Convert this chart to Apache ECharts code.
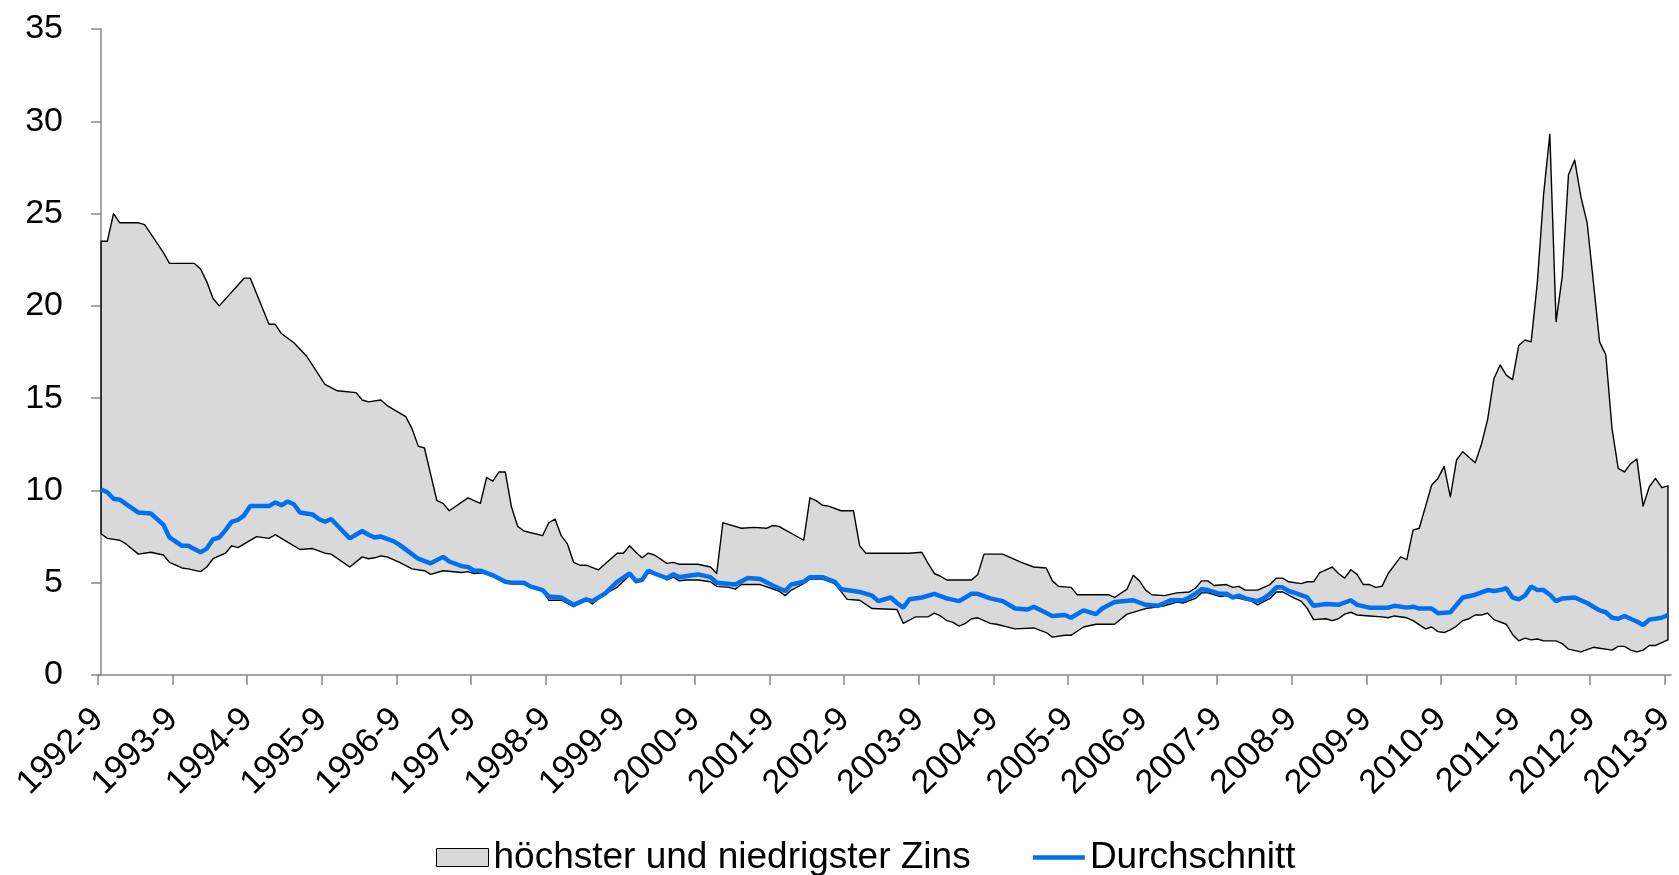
<!DOCTYPE html>
<html lang="de">
<head>
    <meta charset="UTF-8">
    <title>Zinsen</title>
    <script src="https://cdn.jsdelivr.net/npm/echarts@6.0.0/dist/echarts.min.js"></script>
    <style>
        html, body {margin: 0; padding: 0; background: #fff;}
        #chart {width: 1679px; height: 875px;}
    </style>
</head>
<body>
<div id="chart"></div>
<script>
    // Monat 0 = 1992-9, Monat 252 = 2013-9
    let tickLabels = ['1992-9', '1993-9', '1994-9', '1995-9', '1996-9', '1997-9', '1998-9', '1999-9',
        '2000-9', '2001-9', '2002-9', '2003-9', '2004-9', '2005-9', '2006-9', '2007-9', '2008-9',
        '2009-9', '2010-9', '2011-9', '2012-9', '2013-9'];

    // höchster Zins [Monat, Wert]
    let highRate = [
        [0, 23.5], [1, 23.5], [2, 25.0], [3, 24.5], [6, 24.5], [7, 24.4], [10, 22.9], [11, 22.3],
        [15, 22.3], [16, 22.0], [17, 21.3], [18, 20.4], [19, 20.0], [23, 21.5], [24, 21.5], [27, 19.0],
        [28, 19.0], [29, 18.5], [31, 18.0], [33, 17.3], [36, 15.75], [38, 15.4], [41, 15.3], [42, 14.9],
        [43, 14.8], [45, 14.9], [46, 14.6], [49, 14.0], [50, 13.35], [51, 12.4], [52, 12.3], [54, 9.45],
        [55, 9.3], [56, 8.9], [59, 9.6], [61, 9.3], [62, 10.7], [63, 10.5], [64, 11.0], [65, 11.0],
        [66, 9.1], [67, 8.05], [68, 7.8], [71, 7.55], [72, 8.25], [73, 8.45], [74, 7.55], [75, 7.1],
        [76, 6.1], [77, 5.95], [78, 5.95], [80, 5.7], [83, 6.6], [84, 6.6], [85, 7.0], [86, 6.65],
        [87, 6.35], [88, 6.6], [89, 6.5], [91, 6.05], [92, 6.1], [93, 6.0], [96, 6.0], [98, 5.85],
        [99, 5.5], [100, 8.25], [101, 8.15], [103, 7.95], [105, 8.0], [107, 7.95], [108, 8.1], [109, 8.05],
        [113, 7.3], [114, 9.6], [115, 9.45], [116, 9.2], [117, 9.15], [119, 8.9], [121, 8.9], [122, 7.0],
        [123, 6.6], [130, 6.6], [132, 6.65], [133, 6.05], [134, 5.5], [135, 5.35], [136, 5.15], [140, 5.15],
        [141, 5.45], [142, 6.55], [145, 6.55], [147, 6.25], [148, 6.1], [150, 5.85], [152, 5.8], [153, 5.1],
        [154, 4.8], [156, 4.75], [157, 4.35], [162, 4.35], [163, 4.2], [165, 4.65], [166, 5.4], [167, 5.1],
        [168, 4.6], [169, 4.35], [171, 4.3], [173, 4.45], [175, 4.5], [176, 4.7], [177, 5.1], [178, 5.1],
        [179, 4.85], [181, 4.9], [182, 4.75], [183, 4.8], [184, 4.6], [186, 4.6], [187, 4.75], [188, 4.9],
        [189, 5.25], [190, 5.25], [191, 5.05], [193, 4.95], [194, 5.05], [195, 5.05], [196, 5.55], [198, 5.85],
        [199, 5.5], [200, 5.25], [201, 5.7], [202, 5.45], [203, 4.9], [204, 4.9], [205, 4.75], [206, 4.8],
        [207, 5.5], [209, 6.4], [210, 6.25], [211, 7.85], [212, 7.95], [214, 10.3], [215, 10.65], [216, 11.3],
        [217, 9.65], [218, 11.65], [219, 12.1], [221, 11.5], [222, 12.5], [223, 13.85], [224, 16.05], [225, 16.8],
        [226, 16.25], [227, 16.0], [228, 17.85], [229, 18.15], [230, 18.05], [231, 21.3], [232, 26.05], [233, 29.3],
        [234, 19.15], [235, 21.6], [236, 27.1], [237, 27.9], [238, 25.9], [239, 24.5], [240, 21.3], [241, 18.05],
        [242, 17.35], [243, 13.35], [244, 11.2], [245, 11.0], [246, 11.45], [247, 11.7], [248, 9.15], [249, 10.2],
        [250, 10.65], [251, 10.15], [252, 10.25]
    ];

    // niedrigster Zins [Monat, Wert]
    let lowRate = [
        [0, 7.65], [1, 7.4], [3, 7.3], [4, 7.1], [6, 6.55], [8, 6.65], [10, 6.5], [11, 6.1],
        [13, 5.8], [14, 5.75], [16, 5.6], [17, 5.85], [18, 6.3], [20, 6.6], [21, 7.0], [22, 6.9],
        [25, 7.5], [27, 7.4], [28, 7.6], [30, 7.2], [32, 6.8], [34, 6.85], [36, 6.6], [37, 6.55],
        [40, 5.85], [42, 6.4], [43, 6.3], [44, 6.35], [45, 6.45], [46, 6.4], [48, 6.1], [50, 5.75],
        [52, 5.65], [53, 5.45], [55, 5.65], [58, 5.55], [59, 5.6], [60, 5.5], [62, 5.55], [64, 5.2],
        [65, 5.0], [68, 5.05], [69, 4.85], [71, 4.6], [72, 4.05], [74, 4.05], [76, 3.7], [78, 4.1],
        [79, 3.85], [81, 4.4], [83, 4.75], [85, 5.4], [86, 5.0], [87, 5.1], [88, 5.6], [90, 5.4],
        [91, 5.15], [92, 5.3], [93, 5.1], [94, 5.15], [96, 5.15], [98, 5.05], [99, 4.8], [101, 4.75],
        [102, 4.65], [103, 4.9], [106, 4.9], [109, 4.55], [110, 4.3], [111, 4.6], [113, 4.95], [114, 5.2],
        [116, 5.2], [118, 4.95], [120, 4.1], [122, 4.05], [124, 3.6], [128, 3.55], [129, 2.8], [131, 3.15],
        [133, 3.15], [134, 3.35], [135, 3.2], [136, 2.95], [137, 2.85], [138, 2.65], [139, 2.8], [140, 3.05],
        [141, 3.1], [143, 2.8], [144, 2.75], [147, 2.5], [150, 2.55], [152, 2.3], [153, 2.05], [155, 2.15],
        [156, 2.15], [158, 2.6], [160, 2.75], [163, 2.75], [165, 3.3], [168, 3.6], [170, 3.7], [171, 3.75],
        [173, 3.95], [174, 3.9], [176, 4.15], [177, 4.45], [178, 4.45], [180, 4.25], [181, 4.3], [183, 4.15],
        [185, 4.0], [186, 3.8], [188, 4.15], [189, 4.5], [190, 4.5], [192, 4.15], [193, 4.0], [194, 3.6],
        [195, 3.0], [197, 3.05], [198, 2.95], [199, 3.05], [200, 3.3], [201, 3.4], [202, 3.25], [204, 3.2],
        [206, 3.15], [207, 3.1], [208, 3.2], [210, 3.1], [211, 2.95], [213, 2.5], [214, 2.6], [215, 2.35],
        [216, 2.3], [217, 2.45], [218, 2.65], [219, 2.95], [220, 3.05], [221, 3.25], [222, 3.25], [223, 3.35],
        [224, 3.0], [226, 2.75], [227, 2.2], [228, 1.85], [229, 2.0], [230, 1.9], [231, 1.95], [232, 1.85],
        [234, 1.85], [235, 1.7], [236, 1.4], [238, 1.25], [240, 1.5], [241, 1.45], [243, 1.35], [244, 1.55],
        [245, 1.55], [246, 1.35], [247, 1.25], [248, 1.35], [249, 1.6], [250, 1.6], [251, 1.75], [252, 1.9]
    ];

    // Durchschnitt [Monat, Wert]
    let avgRate = [
        [0, 10.05], [1, 9.9], [2, 9.55], [3, 9.5], [6, 8.8], [8, 8.75], [10, 8.15], [11, 7.45],
        [13, 7.0], [14, 7.0], [16, 6.65], [17, 6.85], [18, 7.35], [19, 7.45], [20, 7.85], [21, 8.3],
        [22, 8.4], [23, 8.65], [24, 9.15], [27, 9.15], [28, 9.35], [29, 9.2], [30, 9.4], [31, 9.25],
        [32, 8.8], [34, 8.7], [35, 8.45], [36, 8.3], [37, 8.45], [39, 7.75], [40, 7.4], [42, 7.8],
        [43, 7.6], [44, 7.45], [45, 7.5], [47, 7.25], [48, 7.05], [50, 6.55], [51, 6.3], [53, 6.05],
        [55, 6.4], [56, 6.15], [58, 5.9], [59, 5.85], [60, 5.65], [61, 5.65], [63, 5.4], [65, 5.05],
        [66, 5.0], [68, 5.0], [69, 4.8], [71, 4.6], [72, 4.25], [74, 4.2], [76, 3.8], [78, 4.1],
        [79, 4.0], [81, 4.4], [83, 5.05], [85, 5.5], [86, 5.1], [87, 5.15], [88, 5.65], [89, 5.5],
        [91, 5.25], [92, 5.45], [93, 5.3], [95, 5.4], [96, 5.45], [98, 5.3], [99, 5.0], [102, 4.9],
        [104, 5.25], [106, 5.2], [108, 4.85], [110, 4.55], [111, 4.9], [113, 5.05], [114, 5.3], [116, 5.3],
        [118, 5.05], [119, 4.65], [121, 4.55], [122, 4.5], [124, 4.3], [125, 4.0], [127, 4.2], [128, 3.9],
        [129, 3.65], [130, 4.1], [132, 4.2], [134, 4.4], [136, 4.15], [138, 4.0], [140, 4.4], [141, 4.4],
        [143, 4.15], [145, 4.0], [147, 3.6], [149, 3.55], [150, 3.7], [153, 3.2], [155, 3.25], [156, 3.1],
        [158, 3.5], [160, 3.3], [161, 3.6], [163, 3.95], [166, 4.05], [168, 3.8], [170, 3.75], [172, 4.05],
        [174, 4.05], [175, 4.2], [176, 4.4], [177, 4.65], [178, 4.6], [180, 4.4], [181, 4.4], [182, 4.2],
        [183, 4.3], [184, 4.15], [186, 4.0], [187, 4.15], [188, 4.4], [189, 4.75], [190, 4.75], [191, 4.55],
        [192, 4.45], [194, 4.2], [195, 3.75], [197, 3.85], [199, 3.8], [201, 4.05], [202, 3.8], [204, 3.65],
        [206, 3.65], [207, 3.65], [208, 3.75], [210, 3.65], [211, 3.7], [212, 3.6], [214, 3.6], [215, 3.35],
        [217, 3.4], [219, 4.2], [221, 4.35], [223, 4.6], [224, 4.55], [225, 4.6], [226, 4.7], [227, 4.2],
        [228, 4.1], [229, 4.3], [230, 4.8], [231, 4.6], [232, 4.6], [233, 4.35], [234, 4.0], [235, 4.15],
        [237, 4.2], [239, 3.9], [241, 3.5], [242, 3.4], [243, 3.1], [244, 3.05], [245, 3.2], [247, 2.9],
        [248, 2.7], [249, 3.0], [251, 3.1], [252, 3.25]
    ];

    let bandName = 'höchster und niedrigster Zins';
    let avgName = 'Durchschnitt';
    let fontFamily = '"Liberation Sans", Arial, sans-serif';

    // Teilstriche an den Monatsgrenzen (Kategorie zwischen den Strichen)
    let tickPos = tickLabels.map((t, k) => k * 12 - 0.5);

    let myChart = echarts.init(document.getElementById('chart'));
    let option = {
        animation: false,
        backgroundColor: '#fff',
        grid: {left: 98, right: 7, top: 29, bottom: 200},
        legend: {
            left: 431,
            top: 834,
            itemWidth: 52,
            itemHeight: 18,
            itemGap: 60,
            textStyle: {fontSize: 37, color: '#000', fontFamily: fontFamily},
            data: [
                {name: bandName, icon: 'rect', itemStyle: {color: '#d9d9d9', borderColor: '#000', borderWidth: 1}},
                // nur die Linie, kein Punkt
                {name: avgName, itemStyle: {opacity: 0}, lineStyle: {width: 4.5, color: '#0070f0'}}
            ]
        },
        xAxis: {
            type: 'value',
            min: -0.5,
            max: 252.5,
            splitLine: {show: false},
            axisLine: {lineStyle: {color: '#868686', width: 1.5}},
            axisTick: {
                length: 10,
                customValues: tickPos,
                lineStyle: {color: '#868686', width: 1.5}
            },
            axisLabel: {
                customValues: tickPos,
                rotate: 45,
                margin: 39,
                fontSize: 34,
                color: '#000',
                fontFamily: fontFamily,
                formatter: function (v) {
                    return tickLabels[Math.round((v + 0.5) / 12)];
                }
            }
        },
        yAxis: {
            type: 'value',
            min: 0,
            max: 35,
            interval: 5,
            splitLine: {show: false},
            axisLine: {show: true, lineStyle: {color: '#868686', width: 1.5}},
            axisTick: {show: true, length: 10, lineStyle: {color: '#868686', width: 1.5}},
            axisLabel: {margin: 35, fontSize: 34, color: '#000', fontFamily: fontFamily}
        },
        series: [
            {
                // Fläche zwischen höchstem und niedrigstem Zins
                name: bandName,
                type: 'custom',
                silent: true,
                z: 1,
                itemStyle: {color: '#d9d9d9', borderColor: '#000', borderWidth: 1},
                data: [[0, 0]],
                renderItem: function (params, api) {
                    let pts = highRate.map(d => api.coord(d))
                        .concat(lowRate.slice().reverse().map(d => api.coord(d)));
                    return {
                        type: 'polygon',
                        shape: {points: pts},
                        style: {fill: '#d9d9d9', stroke: '#000', lineWidth: 1.4, lineJoin: 'round'}
                    };
                }
            },
            {
                name: avgName,
                type: 'line',
                z: 3,
                symbol: 'none',
                color: '#0070f0',
                lineStyle: {width: 4.5, color: '#0070f0'},
                data: avgRate
            }
        ]
    };

    myChart.setOption(option);
</script>
</body>
</html>
